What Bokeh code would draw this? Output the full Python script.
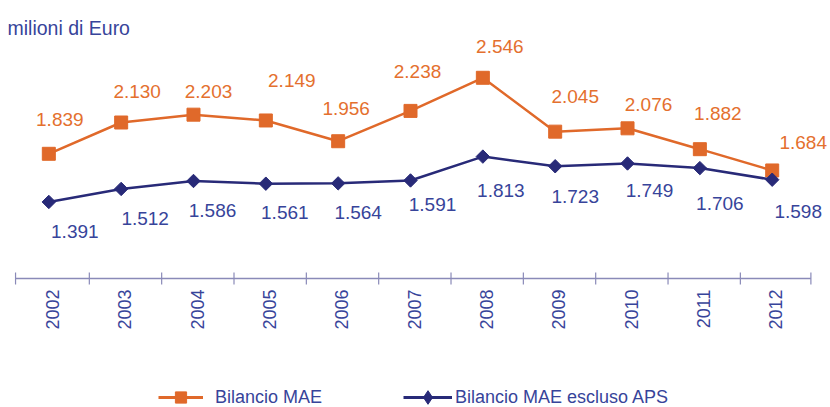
from math import pi
from bokeh.plotting import figure
from bokeh.models import (ColumnDataSource, Range1d, LabelSet, Label,
                          Legend, LegendItem)
from bokeh.embed import file_html
from bokeh.resources import INLINE
from bokeh.core.properties import value

# ---------------- data ----------------
years = ["2002", "2003", "2004", "2005", "2006", "2007", "2008", "2009", "2010", "2011", "2012"]
bilancio_mae = [1839, 2130, 2203, 2149, 1956, 2238, 2546, 2045, 2076, 1882, 1684]
bilancio_mae_escluso_aps = [1391, 1512, 1586, 1561, 1564, 1591, 1813, 1723, 1749, 1706, 1598]

# ---------------- layout / style ----------------
# value-label nudges in pixels (right, down) relative to each point
mae_dx = [11, 16, 15, 26, 8, 7, 17, 20, 21, 18, 31]
mae_dy = [-34, -31, -23, -40, -33, -39, -31, -35, -24, -36, -28]
aps_dx = [26, 24, 19, 19, 20, 22, 18, 20, 22, 20, 26]
aps_dy = [30, 30, 30, 29, 29, 24, 34, 30, 27, 35, 32]

ORANGE = "#E0692A"
ORANGE_TXT = "#E4702E"
NAVY = "#282A78"
NAVY_TXT = "#37449A"
AXIS = "#8A8AB8"
FONT = "Liberation Sans"

W, H = 830, 407
X_LEFT, X_RIGHT = -0.668, 10.806
Y_BOT, Y_TOP = -521, 3265


def px_to_x(px):
    return X_LEFT + px * (X_RIGHT - X_LEFT) / W


def px_to_y(py):
    return Y_TOP - py * (Y_TOP - Y_BOT) / H


def fmt(v):
    return f"{v:,}".replace(",", ".")


xs = list(range(len(years)))

p = figure(width=W, height=H, output_backend="svg", toolbar_location=None,
           x_range=Range1d(X_LEFT, X_RIGHT), y_range=Range1d(Y_BOT, Y_TOP),
           x_axis_location=None, y_axis_location=None,
           min_border=0, min_border_left=0, min_border_right=0,
           min_border_top=0, min_border_bottom=0)
p.background_fill_color = "white"
p.border_fill_color = "white"
p.outline_line_color = None
p.grid.visible = False

# category axis: baseline, boundary ticks and rotated year labels
AXIS_Y = px_to_y(278)
TICK_HALF = 6 * (Y_TOP - Y_BOT) / H
bounds = [-0.46] + [i + 0.56 for i in xs[:-1]] + [10.535]
p.segment(x0=[bounds[0]], y0=[AXIS_Y], x1=[bounds[-1]], y1=[AXIS_Y],
          line_color=AXIS, line_width=1.4)
p.segment(x0=bounds, y0=[AXIS_Y - TICK_HALF] * len(bounds),
          x1=bounds, y1=[AXIS_Y + TICK_HALF] * len(bounds),
          line_color=AXIS, line_width=1.2)
year_src = ColumnDataSource(dict(x=[i + 0.05 for i in xs], y=[px_to_y(289)] * len(xs), t=years))
p.text(x="x", y="y", text="t", source=year_src, angle=pi / 2,
       text_align="right", text_baseline="middle",
       text_font=value(FONT), text_font_size=value("18px"), text_color=NAVY_TXT)

src = ColumnDataSource(dict(
    x=xs, mae=bilancio_mae, aps=bilancio_mae_escluso_aps,
    mae_txt=[fmt(v) for v in bilancio_mae],
    aps_txt=[fmt(v) for v in bilancio_mae_escluso_aps],
    mae_dx=mae_dx, mae_dy=[-d for d in mae_dy],
    aps_dx=aps_dx, aps_dy=[-d for d in aps_dy],
))

p.line("x", "mae", source=src, color=ORANGE, line_width=2.5)
p.scatter("x", "mae", source=src, marker="square", size=13, color=ORANGE)
p.line("x", "aps", source=src, color=NAVY, line_width=2.5)
p.scatter("x", "aps", source=src, marker="square", size=9.5, angle=pi / 4, color=NAVY)

p.add_layout(LabelSet(x="x", y="mae", text="mae_txt", x_offset="mae_dx", y_offset="mae_dy",
                      source=src, text_align="center", text_baseline="middle",
                      text_font=value(FONT), text_font_size=value("19px"),
                      text_color=ORANGE_TXT))
p.add_layout(LabelSet(x="x", y="aps", text="aps_txt", x_offset="aps_dx", y_offset="aps_dy",
                      source=src, text_align="center", text_baseline="middle",
                      text_font=value(FONT), text_font_size=value("19px"),
                      text_color=NAVY_TXT))

p.add_layout(Label(x=7, y=H - 27, x_units="screen", y_units="screen", text="milioni di Euro",
                   text_font=FONT, text_font_size="19.5px", text_color=NAVY_TXT,
                   text_baseline="alphabetic"))

# legend-only renderers (hidden in the plot, drawn by the legend)
lg_l1 = p.line("x", "mae", source=src, color=ORANGE, line_width=3, visible=False)
lg_m1 = p.scatter("x", "mae", source=src, marker="square", color=ORANGE, visible=False)
lg_l2 = p.line("x", "aps", source=src, color=NAVY, line_width=3, visible=False)
lg_m2 = p.scatter("x", "aps", source=src, marker="diamond", color=NAVY, visible=False)

common = dict(orientation="horizontal", padding=0, margin=0, border_line_color=None,
              background_fill_alpha=0, label_height=20,
              label_text_font=FONT, label_text_font_size="18px", label_text_color=NAVY_TXT,
              label_text_baseline="middle")
leg1 = Legend(items=[LegendItem(label="Bilancio MAE", renderers=[lg_l1, lg_m1])],
              location=(158, -4), glyph_width=45, glyph_height=28, label_standoff=12, **common)
leg2 = Legend(items=[LegendItem(label="Bilancio MAE escluso APS", renderers=[lg_l2, lg_m2])],
              location=(403, -7), glyph_width=49, glyph_height=34, label_standoff=3, **common)
p.add_layout(leg1)
p.add_layout(leg2)

open("out.html", "w").write(file_html(p, INLINE))
